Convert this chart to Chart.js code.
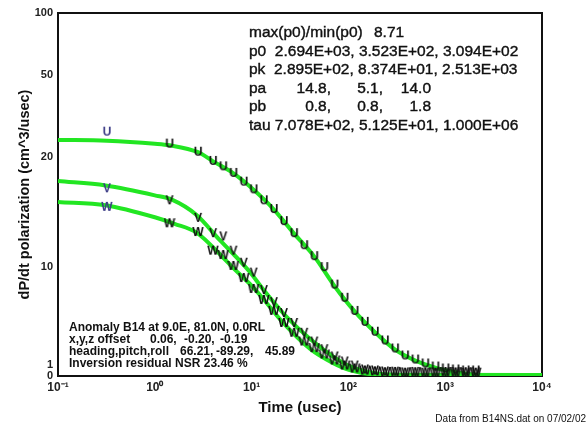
<!DOCTYPE html>
<html>
<head>
<meta charset="utf-8">
<title>B14 polarization decay</title>
<script src="https://cdn.jsdelivr.net/npm/chart.js@4.4.1/dist/chart.umd.min.js"></script>
<style>
  html, body { margin: 0; padding: 0; background: #fff; }
  #wrap { width: 587px; height: 436px; position: relative; }
</style>
</head>
<body>
<div id="wrap"><canvas id="decayChart" width="587" height="436"></canvas></div>
<script>
// Polarization decay plot (U, V, W components + fitted curves)

// Gate times (usec) of the measured data
const gateTimes = [0.32, 1.42, 2.8, 4.0, 5.1, 6.5, 8.3, 10.5, 13.4, 17, 21.6, 27.5, 35, 44.5, 56.5,
  72, 91.5, 116, 148, 188, 239, 304, 386, 491, 624, 793, 1008, 1281, 1628, 2070];

// Measured polarization rates
const uObserved = [26.4, 23.1, 21.1, 19.6, 19.1, 18.5, 17.7, 17.0, 16.0, 15.2, 14.1, 13.0, 11.9, 10.9, 9.9,
  8.3, 7.1, 5.9, 4.9, 4.0, 3.2, 2.47, 1.83, 1.46, 1.1, 0.82, 0.64, 0.55, 0.46, 0.46];
const vObserved = [17.1, 16.0, 14.4, 13.0, 12.7, 11.4, 10.3, 9.4, 7.8, 6.7, 5.7, 4.8, 3.9, 3.1, 2.4,
  1.74, 1.28, 0.91, 0.55, 0.46, 0.37, 0.35, 0.28, 0.33, 0.25, 0.3, 0.28, 0.33, 0.25, 0.3];
const wObserved = [15.4, 13.9, 13.1, 11.4, 11.0, 10.0, 8.9, 7.9, 6.9, 5.9, 4.8, 3.9, 3.1, 2.5, 1.92,
  1.37, 0.91, 0.64, 0.46, 0.38, 0.3, 0.33, 0.26, 0.3, 0.28, 0.26, 0.32, 0.28, 0.3, 0.26];

// Fitted model curves
const uFitTimes = [0.1, 0.32, 1, 1.42, 2.8, 4, 6.5, 10.5, 17, 27.5, 44.5, 72, 116, 188, 304, 491, 793, 1281, 2070, 3000, 10000];
const uFit = [24.2, 24.0, 23.2, 22.8, 21.1, 19.6, 18.5, 17.0, 15.2, 13.0, 10.9, 8.2, 5.9, 4.0, 2.4, 1.4, 0.75, 0.35, 0.12, 0.08, 0.08];
const vFitTimes = [0.1, 0.31, 1, 1.5, 2.7, 4.7, 7.6, 9.6, 13.2, 23, 40, 69, 103, 166, 340, 10000];
const vFit = [17.8, 17.4, 16.5, 16.1, 14.7, 12.4, 10.5, 9.5, 7.9, 5.4, 3.4, 1.8, 0.9, 0.35, 0.1, 0.08];
const wFitTimes = [0.1, 0.31, 1, 1.6, 2.7, 5.1, 6.4, 9.6, 12.2, 21, 40, 69, 103, 213, 10000];
const wFit = [15.9, 15.6, 14.5, 13.9, 13.1, 10.8, 9.9, 8.4, 7.4, 4.9, 2.5, 1.2, 0.55, 0.12, 0.08];

// Axis ticks
const xTickValues = [0.1, 1, 10, 100, 1000, 10000];
const xTickLabels = ['10⁻¹', '10⁰', '10¹', '10²', '10³', '10⁴'];
const yTickValues = [0, 1, 10, 20, 50, 100];

// Annotation text
const fitRows = [
  ['max(p0)/min(p0)', '8.71'],
  ['p0 ', '2.694E+03,', '3.523E+02,', '3.094E+02'],
  ['pk ', '2.895E+02,', '8.374E+01,', '2.513E+03'],
  ['pa', '14.8,', '5.1,', '14.0'],
  ['pb', '0.8,', '0.8,', '1.8'],
  ['tau', '7.078E+02,', '5.125E+01,', '1.000E+06']
];
const siteRows = [
  ['Anomaly B14 at 9.0E, 81.0N, 0.0RL'],
  ['x,y,z offset', '0.06,', '-0.20,', '-0.19'],
  ['heading,pitch,roll', '66.21,', '-89.29,', '45.89'],
  ['Inversion residual NSR 23.46 %']
];
const footNote = 'Data from B14NS.dat on 07/02/02';

Chart.defaults.font.family = '"Liberation Sans", Arial, sans-serif';
Chart.defaults.color = '#111';

// y axis: linear from 0 to 20, logarithmic from 20 to 100
const Y_BREAK = 20;
const Y_BREAK_FRAC = 219 / 363;

class SplitScale extends Chart.LinearScale {
  static id = 'split';

  buildTicks() {
    return yTickValues.map(v => ({ value: v }));
  }

  toDecimal(v) {
    if (v <= Y_BREAK) return (v / Y_BREAK) * Y_BREAK_FRAC;
    return Y_BREAK_FRAC + (1 - Y_BREAK_FRAC) * Math.log10(v / Y_BREAK) / Math.log10(this.max / Y_BREAK);
  }

  getPixelForValue(value) {
    if (value === null || isNaN(value)) return NaN;
    return this.getPixelForDecimal(this.toDecimal(value));
  }

  getValueForPixel(pixel) {
    const d = this.getDecimalForPixel(pixel);
    if (d <= Y_BREAK_FRAC) return d / Y_BREAK_FRAC * Y_BREAK;
    return Y_BREAK * Math.pow(this.max / Y_BREAK, (d - Y_BREAK_FRAC) / (1 - Y_BREAK_FRAC));
  }
}
Chart.register(SplitScale);

// Letter markers used as point styles
function letterMarker(ch, color) {
  const c = document.createElement('canvas');
  c.width = 12;
  c.height = 13;
  const g = c.getContext('2d');
  g.font = 'bold 12px "Liberation Sans", Arial, sans-serif';
  g.fillStyle = color;
  g.textAlign = 'center';
  g.textBaseline = 'middle';
  g.fillText(ch, 6, 7);
  return c;
}

function markerStyles(ch) {
  return gateTimes.map((t, i) => letterMarker(ch, i === 0 ? '#3b3b86' : '#111'));
}

function toPoints(xs, ys) {
  return xs.map((x, i) => ({ x: x, y: ys[i] }));
}

function fitDataset(label, xs, ys) {
  return {
    label: label,
    data: toPoints(xs, ys),
    borderColor: '#22e622',
    borderWidth: 4,
    pointRadius: 0,
    cubicInterpolationMode: 'monotone',
    fill: false,
    order: 2
  };
}

function obsDataset(label, ch, ys) {
  return {
    label: label,
    data: toPoints(gateTimes, ys),
    showLine: false,
    pointStyle: markerStyles(ch),
    pointRadius: 5,
    clip: false,
    order: 1
  };
}

// draw text slightly heavier, like the original print
function heavyText(ctx, text, x, y) {
  ctx.fillText(text, x, y);
  ctx.strokeText(text, x, y);
}

// Frame and text blocks
const annotations = {
  id: 'annotations',
  beforeDatasetsDraw(chart) {
    const { ctx, chartArea: a } = chart;
    ctx.save();
    ctx.strokeStyle = '#111';
    ctx.lineWidth = 2;
    ctx.strokeRect(a.left, a.top, a.right - a.left, a.bottom - a.top);
    ctx.restore();
  },
  afterDraw(chart) {
    const ctx = chart.ctx;
    ctx.save();
    ctx.fillStyle = '#111';
    ctx.strokeStyle = '#111';
    ctx.lineWidth = 0.4;
    ctx.textBaseline = 'middle';

    // fit parameters (top right)
    ctx.font = '15.5px "Liberation Sans", Arial, sans-serif';
    const fy = [33, 51.5, 70, 88.5, 107, 125.5];
    fitRows.forEach((row, i) => {
      ctx.textAlign = 'left';
      if (i === 0) {
        heavyText(ctx, row[0], 249, fy[i]);
        heavyText(ctx, row[1], 374, fy[i]);
      } else if (row[0] === 'pa' || row[0] === 'pb') {
        heavyText(ctx, row[0], 249, fy[i]);
        ctx.textAlign = 'right';
        [331, 383, 431].forEach((x, j) => heavyText(ctx, row[j + 1], x, fy[i]));
      } else {
        heavyText(ctx, row.join(' '), 249, fy[i]);
      }
    });

    // anomaly info (bottom left)
    ctx.font = 'bold 12px "Liberation Sans", Arial, sans-serif';
    ctx.textAlign = 'left';
    const sy = [328, 340, 352, 363.5];
    const cols = { 1: [150, 184, 220], 2: [180, 216, 265] };
    siteRows.forEach((row, i) => {
      ctx.fillText(row[0], 69, sy[i]);
      if (cols[i]) cols[i].forEach((x, j) => ctx.fillText(row[j + 1], x, sy[i]));
    });

    // source note
    ctx.font = '10px "Liberation Sans", Arial, sans-serif';
    ctx.textAlign = 'right';
    ctx.fillText(footNote, 586, 419);
    ctx.restore();
  }
};

new Chart(document.getElementById('decayChart'), {
  type: 'line',
  data: {
    datasets: [
      obsDataset('U data', 'U', uObserved),
      obsDataset('V data', 'V', vObserved),
      obsDataset('W data', 'W', wObserved),
      fitDataset('U fit', uFitTimes, uFit),
      fitDataset('V fit', vFitTimes, vFit),
      fitDataset('W fit', wFitTimes, wFit)
    ]
  },
  options: {
    responsive: false,
    animation: false,
    layout: { padding: { top: 13, right: 45, left: 0, bottom: 0 } },
    plugins: {
      legend: { display: false },
      tooltip: { enabled: false }
    },
    scales: {
      x: {
        type: 'logarithmic',
        min: 0.1,
        max: 10000,
        afterBuildTicks: (scale) => { scale.ticks = xTickValues.map(v => ({ value: v })); },
        afterFit: (scale) => { scale.height = 60; },
        grid: { display: false, drawTicks: false },
        border: { display: false },
        ticks: {
          autoSkip: false,
          maxRotation: 0,
          padding: 4,
          color: '#222',
          font: { size: 12, weight: 'bold' },
          callback: (val) => xTickLabels[xTickValues.indexOf(val)] || ''
        },
        title: {
          display: true,
          text: 'Time (usec)',
          color: '#111',
          font: { size: 15, weight: 'bold' },
          padding: { top: 0, bottom: 19 }
        }
      },
      y: {
        type: 'split',
        min: 0,
        max: 100,
        afterFit: (scale) => { scale.width = 58; },
        grid: { display: false, drawTicks: false },
        border: { display: false },
        ticks: {
          autoSkip: false,
          padding: 5,
          color: '#222',
          font: { size: 11, weight: 'bold' },
          callback: (val) => String(val)
        },
        title: {
          display: true,
          text: 'dP/dt polarization (cm^3/usec)',
          color: '#111',
          font: { size: 14.5, weight: 'bold' },
          padding: { top: 16, bottom: 0 }
        }
      }
    }
  },
  plugins: [annotations]
});
</script>
</body>
</html>
